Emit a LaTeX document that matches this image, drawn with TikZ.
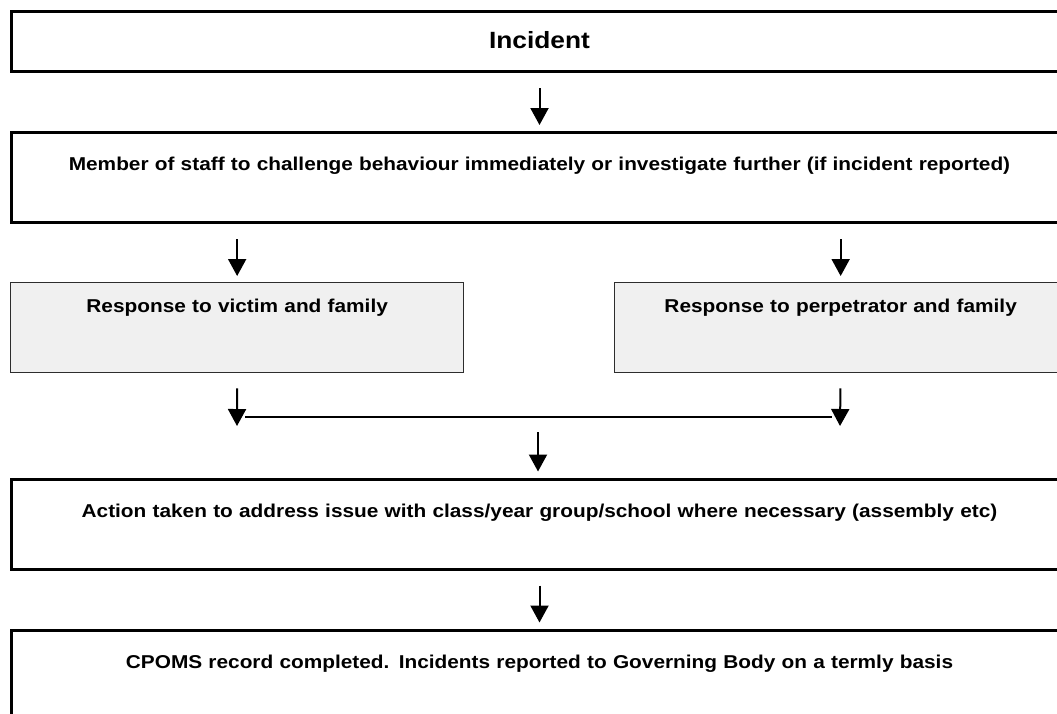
\documentclass[tikz,border=0pt]{standalone}
\usepackage{fontspec}
\setmainfont{Liberation Sans}[FakeStretch=1.12]
\usetikzlibrary{arrows.meta}
\definecolor{RESPgray}{RGB}{240,240,240}
\definecolor{RESPdark}{RGB}{45,45,45}

\begin{document}
\begin{tikzpicture}[x=1pt, y=-1pt,
	stepbox/.style={draw, line width=3pt, anchor=north west, inner xsep=0, inner ysep=0,
		minimum width=1056pt, text width=1056pt, align=center, text height=38pt, text depth=52pt,
		font=\fontsize{18.6}{21}\selectfont\bfseries},
	respbox/.style={stepbox, draw=RESPdark, fill=RESPgray, line width=1.3pt, text height=30pt, text depth=60pt},
	flow/.style={line width=2pt, -{Triangle[width=18pt, length=17pt]}, shorten <=15pt, shorten >=6pt}
	]
	\useasboundingbox (0,0) rectangle (1057,713);
	\clip (0,0) rectangle (1057,713);

	\node (incident) at (10,10) [stepbox, text height=36.5pt, text depth=23.5pt,
		font=\fontsize{23.5}{26}\selectfont\bfseries] {Incident};
	\node (challenge) at (10,131) [stepbox, text height=37.5pt, text depth=52.5pt]
		{Member of staff to challenge behaviour immediately or investigate further (if incident reported)};

	\node (victim) at (10,282) [respbox, minimum width=453pt, text width=453pt] {Response to victim and family};
	\node (perp) at (614,282) [respbox, minimum width=452pt, text width=452pt] {Response to perpetrator and family};

	\node (action) at (10,477.5) [stepbox] {Action taken to address issue with class/year group/school where necessary (assembly etc)};
	\node (cpoms) at (10,628.5) [stepbox] {CPOMS record completed. Incidents reported to Governing Body on a termly basis};

	\coordinate (vend) at (237,426);
	\coordinate (pend) at (840,426);
	\coordinate (joinL) at (245,417);
	\coordinate (joinR) at (832,417);
	\coordinate (joinM) at (538,417);

	\draw [flow] (incident.south) -- (challenge.north);
	\draw [flow] (challenge.south -| victim.north) -- (victim.north);
	\draw [flow] (challenge.south -| perp.north) -- (perp.north);
	\draw [flow, shorten >=0pt] (victim.south) -- (vend);
	\draw [flow, shorten >=0pt] (perp.south) -- (pend);
	\draw [line width=1.2pt] (joinL) -- (joinR);
	\draw [flow] (joinM) -- (action.north -| joinM);
	\draw [flow] (action.south) -- (cpoms.north);
\end{tikzpicture}
\end{document}
